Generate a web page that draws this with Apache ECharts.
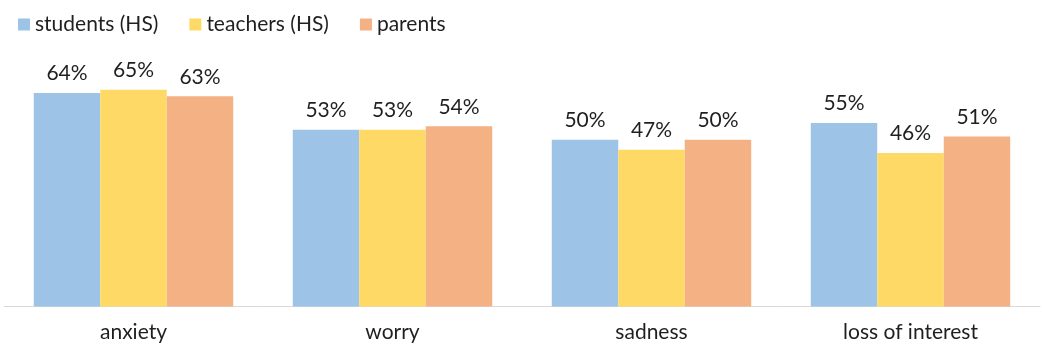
<!DOCTYPE html>
<html>
<head>
<meta charset="utf-8">
<script src="https://cdn.jsdelivr.net/npm/echarts@6/dist/echarts.min.js"></script>
<style>
  html, body { margin: 0; padding: 0; background: #fff; }
  #chart { width: 1042px; height: 349px; }
</style>
</head>
<body>
<div id="chart"></div>
<script>
// Share of respondents reporting each symptom, by group (percent)
const categories = ['anxiety', 'worry', 'sadness', 'loss of interest'];
const seriesNames = ['students (HS)', 'teachers (HS)', 'parents'];
const students = [64, 53, 50, 55];
const teachers = [65, 53, 47, 46];
const parents = [63, 54, 50, 51];
const colors = ['#9DC3E6', '#FFD966', '#F4B183'];

const FONT = 'Lato';
const TEXT = '#1f1f1f';

function barSeries(name, data, color) {
  return {
    name: name,
    type: 'bar',
    data: data,
    itemStyle: { color: color },
    barGap: '0%',
    barCategoryGap: '23%',
    label: {
      show: true,
      position: 'top',
      distance: 9,
      formatter: '{c}%',
      fontFamily: FONT,
      fontSize: 21,
      color: TEXT
    }
  };
}

const chart = echarts.init(document.getElementById('chart'), null, { renderer: 'canvas' });
chart.setOption({
  animation: false,
  color: colors,
  legend: {
    data: seriesNames,
    left: 13,
    top: 9,
    icon: 'rect',
    itemWidth: 12,
    itemHeight: 12,
    itemGap: 31,
    textStyle: { fontFamily: FONT, fontSize: 21, color: TEXT }
  },
  grid: { left: 4, right: 2, top: 73, bottom: 42.5, containLabel: false },
  xAxis: {
    type: 'category',
    data: categories,
    axisLine: { lineStyle: { color: '#D9D9D9', width: 1 } },
    axisTick: { show: false },
    axisLabel: { fontFamily: FONT, fontSize: 21, color: TEXT, margin: 15 }
  },
  yAxis: {
    type: 'value',
    min: 0,
    max: 70,
    show: false,
    splitLine: { show: false }
  },
  series: [
    barSeries(seriesNames[0], students, colors[0]),
    barSeries(seriesNames[1], teachers, colors[1]),
    barSeries(seriesNames[2], parents, colors[2])
  ]
});
</script>
</body>
</html>
